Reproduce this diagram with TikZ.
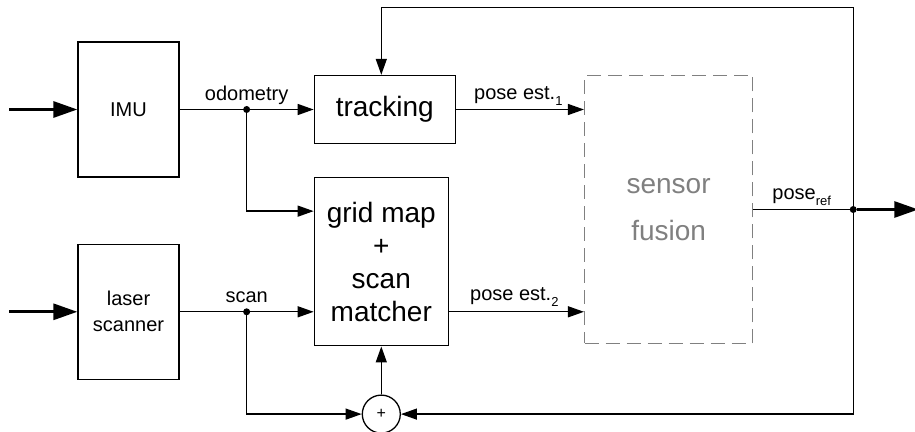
\documentclass[tikz,border=0pt]{standalone}
\usepackage{fontspec}
\setmainfont{Liberation Sans}
\usepackage{xcolor}
\usepackage{tikz}
\usetikzlibrary{shapes,arrows.meta,positioning}
\tikzstyle{smallblock} = [rectangle, draw, line width=1.3pt, fill=white,
    align=center, minimum width=101pt, minimum height=135pt, inner sep=0pt,
    font=\fontsize{20}{26}\selectfont]
\tikzstyle{bigblock} = [rectangle, draw, line width=1.3pt, fill=white,
    align=center, inner sep=0pt, font=\fontsize{28}{33}\selectfont]
\tikzstyle{line} = [draw, line width=1.3pt, -{Triangle[length=16pt,width=11pt]}]
\tikzstyle{thickline} = [draw, line width=3pt, -{Triangle[length=24pt,width=16pt]}]
\tikzstyle{dot} = [circle, fill=black, inner sep=0pt, minimum size=7pt]
\tikzstyle{lbl} = [inner sep=0pt, anchor=base, font=\fontsize{20}{24}\selectfont]
\newcommand{\lowidx}[1]{\raisebox{-6pt}{\fontsize{13}{13}\selectfont #1}}

\begin{document}
\begin{tikzpicture}[x=1pt, y=1pt, node distance=66pt]
        \useasboundingbox (0,0) rectangle (915,431);
        % Components
        \node [smallblock] (imu) at (128.5,321.5) {IMU};
        \node [smallblock, below=of imu] (laser) {laser\\scanner};
        \node [bigblock, minimum width=141pt, minimum height=68pt,
            right=134pt of imu] (tracking) {tracking};
        \node [bigblock, minimum width=134pt, minimum height=168pt,
            below=33pt of tracking.south west, anchor=north west] (gridmap) {grid map\\+\\scan\\matcher};
        \node [bigblock, draw=gray, dash pattern=on 14pt off 7pt, text=gray,
            minimum width=168pt, minimum height=268pt, font=\fontsize{28}{47}\selectfont,
            right=128pt of tracking.north east, anchor=north west] (fusion) {sensor\\fusion};
        \node [circle, draw, line width=1.3pt, minimum size=38pt, inner sep=0pt,
            font=\fontsize{16}{16}\selectfont, below=48pt of gridmap] (sum) {+};
        
        % Junctions and loose ends
        \coordinate [left=68pt of imu] (imuin);
        \coordinate [left=68pt of laser] (laserin);
        \node [dot] (odo) at ([xshift=67pt]imu.east) {};
        \node [dot] (scandot) at ([xshift=67pt]laser.east) {};
        \node [dot] (split) at ([xshift=100pt]fusion.east) {};
        \coordinate (out) at ([xshift=165pt]fusion.east);
        \coordinate (est2) at (gridmap.east |- laser);
        
        % Connections
        \path [thickline] (imuin) -- (imu);
        \path [thickline] (laserin) -- (laser);
        \path [line] (imu) -- (tracking);
        \path [line] (odo) |- ([yshift=-34pt]gridmap.north west);
        \path [line] (laser) -- (laser -| gridmap.west);
        \path [line] (scandot) |- (sum);
        \path [line] (sum) -- (gridmap);
        \path [line] (tracking) -- (tracking -| fusion.west);
        \path [line] (est2) -- (laser -| fusion.west);
        \draw [line width=1.3pt] (fusion) -- (split);
        \path [thickline] (split) -- (out);
        \path [line] (split) -- ++(0,202) -| (tracking.north -| sum);
        \path [line] (split) |- (sum);
        
        % Labels
        \node [lbl] (odolbl) at ([yshift=9pt]odo.center) {odometry};
        \node [lbl] (scanlbl) at ([yshift=9pt]scandot.center) {scan};
        \node [lbl, anchor=base west] (est1lbl) at ([xshift=18pt,yshift=10pt]tracking.east) {pose est.\lowidx{1}};
        \node [lbl, anchor=base west] (est2lbl) at ([xshift=21pt,yshift=11pt]est2) {pose est.\lowidx{2}};
        \node [lbl, anchor=base west] (reflbl) at ([xshift=19pt,yshift=10pt]fusion.east) {pose\lowidx{ref}};
    \end{tikzpicture}
\end{document}
